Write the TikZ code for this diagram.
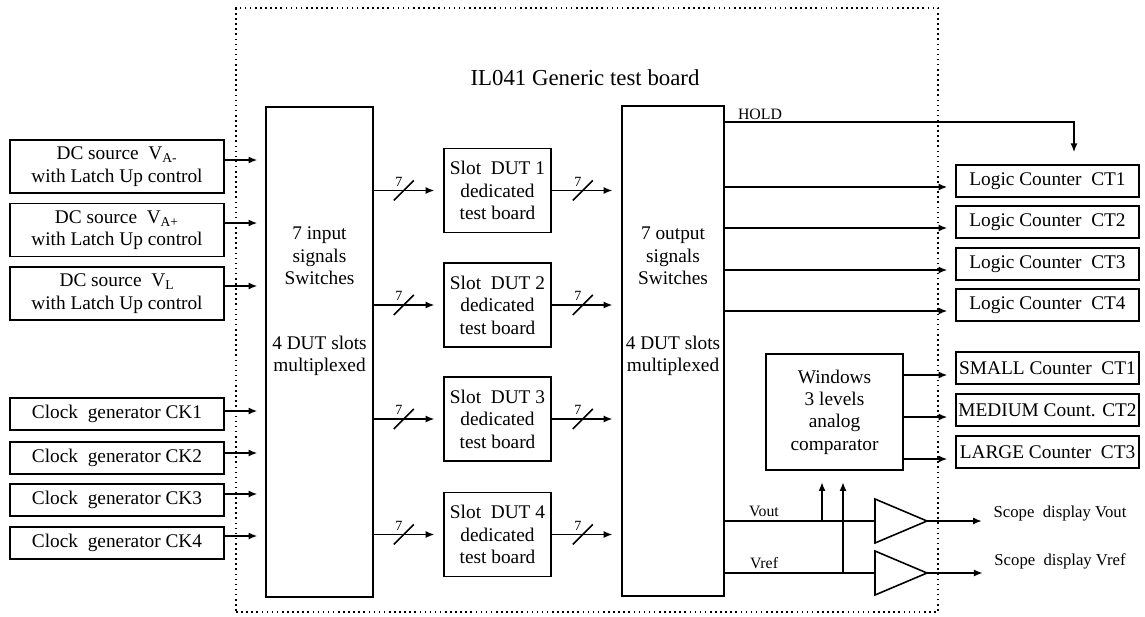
\documentclass[tikz,border=0pt]{standalone}
\usepackage{fontspec}
\setmainfont{Liberation Serif}
\usetikzlibrary{arrows.meta,calc}
\begin{document}
\begin{tikzpicture}[x=0.02cm,y=-0.02cm,
  box/.style={draw, line width=0.9pt, align=center, inner sep=0pt, font=\fontsize{11}{12.75}\selectfont},
  txt/.style={align=center, inner sep=0pt, font=\fontsize{11}{12.75}\selectfont},
  small/.style={inner sep=0pt, font=\fontsize{9}{9}\selectfont},
  arr/.style={line width=0.9pt, -{Latex[length=5pt,width=4pt]}},
  ln/.style={line width=0.9pt},
  busmark/.pic={\draw[line width=0.9pt] (-10,10) -- (10,-10);
                \node[inner sep=0pt,font=\fontsize{8}{8}\selectfont] at (-5,-9) {7};}]
\useasboundingbox (0,0) rectangle (1145,616);

% board frame and title
\node[draw, dotted, line width=0.9pt, minimum width=14.04cm, minimum height=12.08cm, inner sep=0pt] (board) at (587,310) {};
\node[font=\fontsize{13}{13}\selectfont] (title) at (585,78) {IL041 Generic test board};

% left sources
\tikzset{dcbox/.style={box, minimum width=4.28cm, minimum height=1.06cm},
         ckbox/.style={box, minimum width=4.28cm, minimum height=0.64cm}}
\node[dcbox] (dc1) at (117,166.5) {DC source\ \ V\textsubscript{A-}\\with Latch Up control};
\node[dcbox] (dc2) at (117,230) {DC source\ \ V\textsubscript{A+}\\with Latch Up control};
\node[dcbox] (dc3) at (117,293.5) {DC source\ \ V\textsubscript{L}\\with Latch Up control};
\node[ckbox] (ck1) at (117,414) {Clock\ \ generator CK1};
\node[ckbox] (ck2) at (117,458) {Clock\ \ generator CK2};
\node[ckbox] (ck3) at (117,500) {Clock\ \ generator CK3};
\node[ckbox] (ck4) at (117,543) {Clock\ \ generator CK4};

% input switch block
\node[box, minimum width=2.14cm, minimum height=9.8cm] (insw) at (319.5,352) {};
\node[txt] (intxt1) at (319.5,256) {7 input\\signals\\Switches};
\node[txt] (intxt2) at (319.5,356) {4 DUT slots\\multiplexed};

% output switch block
\node[box, minimum width=2.04cm, minimum height=9.8cm] (outb) at (673,351) {};
\node[txt] (outtxt1) at (673,256) {7 output\\signals\\Switches};
\node[txt] (outtxt2) at (673,356) {4 DUT slots\\multiplexed};

\foreach \n/\d in {dc1/-6.5,dc2/-7,dc3/-7.5,ck1/-3,ck2/-5,ck3/-6,ck4/-7}{
  \path (\n.east) ++(0,\d) coordinate (t);
  \draw[arr, shorten >=4.5pt] (t) -- (t -| insw.west);
}

% DUT slots
\foreach \i/\y in {1/190.5,2/305,3/419,4/534.5}{
  \node[box, minimum width=2.14cm, minimum height=1.68cm] (slot\i) at (497.5,\y) {Slot\ \ DUT \i\\dedicated\\test board};
  \draw[arr, shorten >=5pt] (slot\i.west -| insw.east) -- (slot\i.west);
  \pic at ($(slot\i.west -| insw.east)+(30,0)$) {busmark};
  \draw[arr, shorten >=5pt] (slot\i.east) -- (slot\i.east -| outb.west);
  \pic at ($(slot\i.east)+(31,0)$) {busmark};
}

% logic counters
\tikzset{ctbox/.style={box, minimum width=3.66cm, minimum height=0.64cm}}
\foreach \i/\y in {1/181,2/222,3/264,4/305}{
  \node[ctbox] (ct\i) at (1047.5,\y) {Logic Counter\ \ CT\i};
  \path (ct\i.west) ++(0,6) coordinate (t);
  \draw[arr, shorten >=4.5pt] (t -| outb.east) -- (t);
}

% HOLD
\coordinate (hy) at (0,122);
\coordinate (hend) at ($(ct1.north)+(26.5,-12)$);
\draw[arr] (outb.east |- hy) -| (hend);
\node[small] (hold) at (760,114) {HOLD};

% comparator
\node[box, minimum width=2.74cm, minimum height=2.32cm] (comp) at (834.5,412) {Windows\\3 levels\\analog\\comparator};
\node[ctbox] (sm) at (1047.5,368) {SMALL Counter\ \ CT1};
\node[ctbox] (md) at (1047.5,410) {MEDIUM Count. CT2};
\node[ctbox] (lg) at (1047.5,452) {LARGE Counter\ \ CT3};
\foreach \n in {sm,md,lg}{
  \path (\n.west) ++(0,7) coordinate (t);
  \draw[arr, shorten >=4.5pt] (t -| comp.east) -- (t);
}

% amplifiers
\coordinate (a1in) at (875,521); \coordinate (a1out) at (927,521);
\coordinate (a2in) at (875,573); \coordinate (a2out) at (927,573);
\draw[ln] ($(a1in)+(0,-22)$) -- (a1out) -- ($(a1in)+(0,22)$) -- cycle;
\draw[ln] ($(a2in)+(0,-22)$) -- (a2out) -- ($(a2in)+(0,22)$) -- cycle;
\draw[ln] (a1in -| outb.east) -- (a1in);
\draw[ln] (a2in -| outb.east) -- (a2in);
\node[small] (vout) at (764,511) {Vout};
\node[small] (vref) at (764,563) {Vref};
\coordinate (v1) at (822,521);
\coordinate (v2) at (843,573);
\draw[arr, shorten >=6.5pt] (v1) -- (v1 |- comp.south);
\draw[arr, shorten >=6.5pt] (v2) -- (v2 |- comp.south);

% scope outputs
\node[inner sep=0pt, font=\fontsize{9.5}{9.5}\selectfont] (sc1) at (1060,513) {Scope\ \ display Vout};
\node[inner sep=0pt, font=\fontsize{9.5}{9.5}\selectfont] (sc2) at (1060,561) {Scope\ \ display Vref};
\draw[arr, shorten >=6.5pt] (a1out) -- (a1out -| sc1.west);
\draw[arr, shorten >=6.5pt] (a2out) -- (a2out -| sc2.west);
\end{tikzpicture}
\end{document}
